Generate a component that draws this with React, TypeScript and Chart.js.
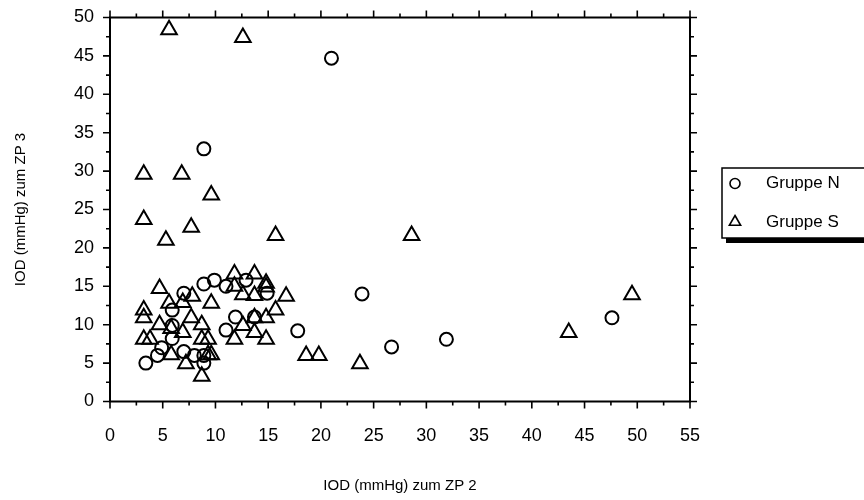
import React, { useEffect, useRef } from "react";
import { Chart, registerables } from "chart.js";

Chart.register(...registerables);

const xTickValues = [0, 5, 10, 15, 20, 25, 30, 35, 40, 45, 50, 55];
const yTickValues = [0, 5, 10, 15, 20, 25, 30, 35, 40, 45, 50];

const seriesNames = ["Gruppe N", "Gruppe S"];
const xTitle = "IOD (mmHg) zum ZP 2";
const yTitle = "IOD (mmHg) zum ZP 3";

// Gruppe N (circles)
const groupNX = [21, 8.9, 23.9, 47.6, 31.9, 26.7, 17.8, 9.9, 12.9, 14.9, 11, 8.9, 11.9, 13.7, 11, 3.4, 4.5, 4.9, 5.9, 5.9, 5.9, 7, 7, 8, 8.9, 8.9];
const groupNY = [44.7, 32.9, 14, 10.9, 8.1, 7.1, 9.2, 15.8, 15.8, 14.1, 15, 15.3, 11, 11, 9.3, 5, 6, 7, 8.2, 9.9, 11.9, 14.1, 6.5, 6, 6, 5];

// Gruppe S (triangles)
const groupSX = [5.6, 12.6, 3.2, 6.8, 9.6, 3.2, 7.7, 5.3, 15.7, 28.6, 49.5, 43.5, 23.7, 18.6, 19.8, 11.8, 13.7, 14.8, 14.8, 4.7, 5.6, 6.9, 7.8, 9.6, 11.8, 12.6, 13.7, 16.7, 15.7, 14.8, 13.7, 12.6, 13.7, 11.8, 14.8, 3.2, 3.2, 3.2, 3.8, 4.7, 5.8, 6.9, 7.7, 8.7, 8.7, 9.3, 9.6, 9.3, 5.8, 7.2, 8.7];
const groupSY = [48.4, 47.4, 29.6, 29.6, 26.9, 23.7, 22.7, 21, 21.6, 21.6, 13.9, 9, 4.9, 6, 6, 16.6, 16.6, 15.4, 14.9, 14.7, 12.8, 12.9, 13.7, 12.8, 15, 13.9, 13.8, 13.7, 11.9, 10.9, 10.9, 9.9, 9, 8.1, 8.1, 11.9, 10.9, 8.1, 8.1, 10, 9.5, 9, 10.9, 10, 8.1, 8.1, 6.1, 6.1, 6.1, 4.9, 3.3];

const FONT = "'Liberation Sans', Arial, sans-serif";

const framePlugin = {
  id: "framePlugin",
  beforeDatasetsDraw(chart: any) {
    const { ctx, chartArea } = chart;
    const xs = chart.scales.x;
    const ys = chart.scales.y;
    const { left, right, top, bottom } = chartArea;
    ctx.save();
    ctx.strokeStyle = "#000";
    ctx.lineWidth = 2;
    ctx.strokeRect(left, top, right - left, bottom - top);
    ctx.lineWidth = 1.6;
    ctx.beginPath();
    for (let v = 0; v <= 55 + 1e-6; v += 2.5) {
      const p = xs.getPixelForValue(v);
      const len = Math.abs(v % 5) < 1e-6 ? 7 : 4;
      ctx.moveTo(p, bottom);
      ctx.lineTo(p, bottom + len);
      ctx.moveTo(p, top);
      ctx.lineTo(p, top - len);
    }
    for (let v = 0; v <= 50 + 1e-6; v += 2.5) {
      const p = ys.getPixelForValue(v);
      const len = Math.abs(v % 5) < 1e-6 ? 7 : 4;
      ctx.moveTo(left, p);
      ctx.lineTo(left - len, p);
      ctx.moveTo(right, p);
      ctx.lineTo(right + len, p);
    }
    ctx.stroke();

    // axis titles
    ctx.fillStyle = "#000";
    ctx.font = `15px ${FONT}`;
    ctx.textAlign = "center";
    ctx.textBaseline = "middle";
    ctx.fillText(xTitle, (left + right) / 2, 486);
    ctx.save();
    ctx.translate(20.5, (top + bottom) / 2);
    ctx.rotate(-Math.PI / 2);
    ctx.fillText(yTitle, 0, 0);
    ctx.restore();

    // legend box with shadow
    const bx = 722, by = 168, bw = 160, bh = 70;
    ctx.fillStyle = "#000";
    ctx.fillRect(bx + 4, by + 4, bw, bh + 1);
    ctx.fillStyle = "#fff";
    ctx.fillRect(bx, by, bw, bh);
    ctx.lineWidth = 1.5;
    ctx.strokeStyle = "#000";
    ctx.strokeRect(bx, by, bw, bh);

    // legend symbols
    ctx.lineWidth = 1.6;
    ctx.beginPath();
    ctx.arc(735, 183.5, 5, 0, Math.PI * 2);
    ctx.stroke();
    const tr = 6.5;
    const cx = 735, cy = 222;
    ctx.beginPath();
    ctx.moveTo(cx, cy - tr);
    ctx.lineTo(cx + tr * Math.sin((2 * Math.PI) / 3), cy - tr * Math.cos((2 * Math.PI) / 3));
    ctx.lineTo(cx + tr * Math.sin((4 * Math.PI) / 3), cy - tr * Math.cos((4 * Math.PI) / 3));
    ctx.closePath();
    ctx.stroke();

    ctx.fillStyle = "#000";
    ctx.textAlign = "left";
    ctx.font = `17px ${FONT}`;
    ctx.fillText(seriesNames[0], 766, 183.5);
    ctx.fillText(seriesNames[1], 766, 222);
    ctx.restore();
  },
};

export default function App() {
  const canvasRef = useRef<HTMLCanvasElement | null>(null);

  useEffect(() => {
    document.body.style.margin = "0";
    const canvas = canvasRef.current;
    if (!canvas) return;
    const chart = new Chart(canvas, {
      type: "scatter",
      data: {
        datasets: [
          {
            label: seriesNames[0],
            data: groupNX.map((x, i) => ({ x, y: groupNY[i] })),
            pointStyle: "circle",
            pointRadius: 6.5,
            pointBorderWidth: 2,
            borderColor: "#000",
            backgroundColor: "rgba(0,0,0,0)",
            pointBackgroundColor: "rgba(0,0,0,0)",
            pointBorderColor: "#000",
            clip: false,
          },
          {
            label: seriesNames[1],
            data: groupSX.map((x, i) => ({ x, y: groupSY[i] })),
            pointStyle: "triangle",
            pointRadius: 9,
            pointBorderWidth: 2,
            borderColor: "#000",
            backgroundColor: "rgba(0,0,0,0)",
            pointBackgroundColor: "rgba(0,0,0,0)",
            pointBorderColor: "#000",
            clip: false,
          },
        ],
      },
      options: {
        responsive: false,
        animation: false,
        layout: { padding: { left: 0, top: 17.5, right: 174, bottom: 0 } },
        plugins: {
          legend: { display: false },
          tooltip: { enabled: false },
        },
        scales: {
          x: {
            type: "linear",
            min: 0,
            max: 55,
            afterBuildTicks: (scale: any) => {
              scale.ticks = xTickValues.map((v) => ({ value: v }));
            },
            afterFit: (scale: any) => {
              scale.height = 98.5;
              scale.paddingLeft = 0;
              scale.paddingRight = 0;
            },
            grid: { display: false, drawTicks: false },
            border: { display: false },
            ticks: {
              color: "#000",
              padding: 24,
              maxRotation: 0,
              font: { family: FONT, size: 18 },
            },
          },
          y: {
            type: "linear",
            min: 0,
            max: 50,
            afterBuildTicks: (scale: any) => {
              scale.ticks = yTickValues.map((v) => ({ value: v }));
            },
            afterFit: (scale: any) => {
              scale.width = 110;
              scale.paddingTop = 0;
              scale.paddingBottom = 0;
            },
            grid: { display: false, drawTicks: false },
            border: { display: false },
            ticks: {
              color: "#000",
              padding: 16,
              font: { family: FONT, size: 18 },
            },
          },
        },
      },
      plugins: [framePlugin],
    });
    return () => chart.destroy();
  }, []);

  return (
    <div style={{ width: 864, height: 500 }}>
      <canvas ref={canvasRef} width={864} height={500} style={{ display: "block" }} />
    </div>
  );
}
